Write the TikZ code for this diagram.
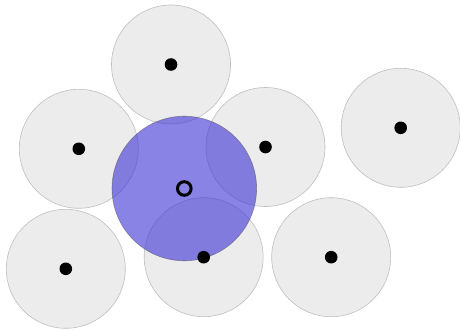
\documentclass[tikz,border=0pt]{standalone}
\definecolor{zone}{RGB}{65,55,215}
\begin{document}
\begin{tikzpicture}[x=1pt,y=-1pt]
		% Styles (MODIFIABLES)
		\tikzstyle{disque}=[circle,draw=gray!50,fill=gray!15,line width=0.6pt,minimum size=119pt,inner sep=0pt]
		\tikzstyle{portee}=[circle,draw=black!70,fill=zone,fill opacity=0.62,draw opacity=0.5,line width=0.6pt,minimum size=144.6pt,inner sep=0pt]
		\tikzstyle{point}=[circle,fill=black,minimum size=12.6pt,inner sep=0pt]
		\tikzstyle{centre}=[circle,draw=black,line width=3pt,minimum size=13.6pt,inner sep=0pt]
		% Cadre
		\useasboundingbox (0,0) rectangle (460,329);
		% Disques
		\node[disque] (D1) at (171,64.5) {};
		\node[disque] (D2) at (78.8,148.8) {};
		\node[disque] (D3) at (265.5,147) {};
		\node[disque] (D4) at (400.7,127.8) {};
		\node[disque] (D5) at (65.8,268.8) {};
		\node[disque] (D6) at (203.7,257.2) {};
		\node[disque] (D7) at (331.2,257.2) {};
		% Zone
		\node[portee] (Z) at (184.3,188.5) {};
		% Points
		\node[point] (P1) at (D1) {};
		\node[point] (P2) at (D2) {};
		\node[point] (P3) at (D3) {};
		\node[point] (P4) at (D4) {};
		\node[point] (P5) at (D5) {};
		\node[point] (P6) at (D6) {};
		\node[point] (P7) at (D7) {};
		\node[centre] (C) at (Z) {};
\end{tikzpicture}
\end{document}
